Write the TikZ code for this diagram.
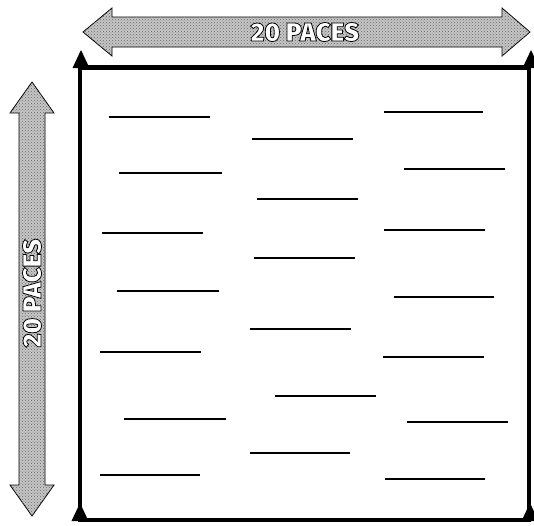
\documentclass[tikz,border=0pt]{standalone}
\usepackage{fontspec}
\setmainfont{Fira Sans}
\newfontfamily\pacefont{Fira Sans}[UprightFont={* Black}]
\usetikzlibrary{patterns}
% white letters with a black outline (fill + stroke render mode)
\newcommand{\outlined}[1]{%
  \special{pdf:literal direct 2 Tr 0.8 w 0 0 0 RG}#1\special{pdf:literal direct 0 Tr}}

\begin{document}
\begin{tikzpicture}[x=1pt,y=-1pt,
    stone/.style={draw=black,line width=.8pt,fill=gray!45,
      postaction={pattern=crosshatch dots,pattern color=black!60}},
    rule/.style={line width=2.8pt,line cap=butt},
    peg/.style={fill=black},
    pace/.style={inner sep=0pt,text=white,font=\pacefont\fontsize{26}{26}\selectfont}
  ]
  \useasboundingbox (0,0) rectangle (534,525);
  % field
  \draw[line width=4.8pt] (80,67.5) -- (529,67.5) -- (529,520) -- (80,520) -- cycle;
  % corner pegs
  \foreach \px/\py in {81/68,531/68,80/521,530/521}
    \fill[peg] (\px,\py-18) -- (\px+8.5,\py) -- (\px-8.5,\py) -- cycle;
  % horizontal arrow
  \draw[stone] (83,32) -- (112,8) -- (112,17) -- (502,17) -- (502,8) -- (530,32)
    -- (502,56) -- (502,47) -- (112,47) -- (112,56) -- cycle;
  \node[pace] (paceh) at (305,32) {\outlined{20 PACES}};
  % vertical arrow
  \draw[stone] (32,82) -- (54,113) -- (45,113) -- (45,485) -- (54,485) -- (32,516)
    -- (10,485) -- (19,485) -- (19,113) -- (10,113) -- cycle;
  \node[pace,rotate=90] (pacev) at (32,293) {\outlined{20 PACES}};
  % lines on the field
  \foreach \xa/\xb/\yy in {109/210/117, 119/222/173, 102/203/233, 117/219/291,
      100/201/352, 124/226/419, 100/200/475,
      252/353/139, 257/358/199, 254/355/258, 250/351/329, 275/376/396, 250/350/453,
      384/483/112, 404/505/169, 384/485/230, 394/494/297, 383/484/357, 407/508/422, 385/485/479}
    \draw[rule] (\xa,\yy) -- (\xb,\yy);
\end{tikzpicture}
\end{document}
